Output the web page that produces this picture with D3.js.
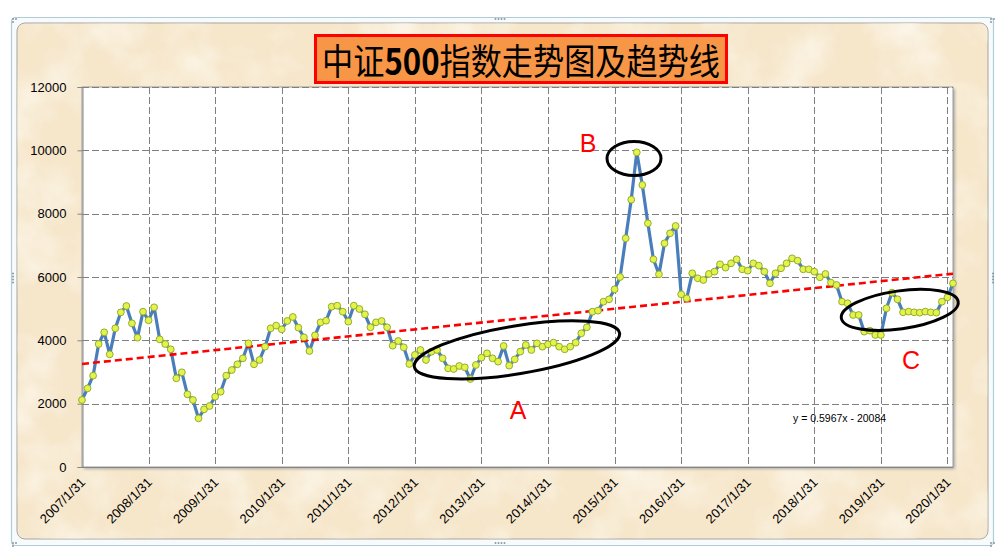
<!DOCTYPE html>
<html><head><meta charset="utf-8">
<script src="https://cdn.jsdelivr.net/npm/d3@7"></script>
<style>body{margin:0;background:#fff;} svg{display:block}</style>
</head><body><svg id="c" width="1006" height="558"></svg>
<script>
// ---------- data ----------
const titleParts = ["中证", "500", "指数走势图及趋势线"];
const startYear = 2007, startMonth = 1;           // first point: 2007/1/31, monthly
const values = [
 2116,2485,2884,3884,4253,3558,4380,4885,5084,4538,4083,4904,
 4633,5043,4032,3884,3717,2801,2991,2296,2116,1538,1822,1926,
 2220,2378,2884,3063,3243,3433,3906,3243,3379,3800,4380,4464,
 4348,4611,4737,4400,4095,3663,4159,4569,4620,5062,5094,4904,
 4589,5094,4990,4822,4412,4569,4611,4412,3831,3979,3780,3253,
 3540,3695,3379,3643,3695,3432,3116,3095,3190,3148,2779,3221,
 3453,3590,3432,3327,3821,3200,3400,3643,3853,3695,3906,3800,
 3875,3927,3800,3717,3800,3927,4222,4412,4904,4937,5221,5295,
 5611,6000,7222,8442,9937,8906,7696,6559,6085,7064,7380,7611,
 5454,5327,6117,5959,5906,6096,6169,6401,6296,6432,6559,6243,
 6200,6432,6359,6169,5801,6117,6275,6432,6590,6517,6243,6243,
 6169,5991,6096,5822,5748,5221,5169,4800,4800,4274,4305,4169,
 4169,5011,5505,5296,4885,4906,4885,4874,4906,4885,4874,5221,
 5358,5801
];
const tickLabels = ["2007/1/31","2008/1/31","2009/1/31","2010/1/31","2011/1/31","2012/1/31","2013/1/31",
  "2014/1/31","2015/1/31","2016/1/31","2017/1/31","2018/1/31","2019/1/31","2020/1/31"];
const tickIndex = [0,12,24,36,48,60,72,84,96,108,120,132,144,156];
const yTicks = [0,2000,4000,6000,8000,10000,12000];
const trendValues = [3255, 6105];                  // trend line at first and last month
const trendLabel = "y = 0.5967x - 20084";
const markLabels = ["A","B","C"];
const markIndex = [78.4, 99.5, 147.4];             // ellipse centres (month index)
const markValue = [3700, 9740, 4960];              // ellipse centres (value)

// ---------- layout ----------
const svg = d3.select("#c");
const L = 82, R = 953, T = 87, B = 467;
const x = d3.scaleLinear().domain([0, values.length - 1]).range([L, R]);
const y = d3.scaleLinear().domain([0, 12000]).range([B, T]);

const defs = svg.append("defs");
const f = defs.append("filter").attr("id","tex").attr("x",0).attr("y",0).attr("width","100%").attr("height","100%");
f.append("feTurbulence").attr("type","fractalNoise").attr("baseFrequency","0.018").attr("numOctaves",4).attr("seed",7).attr("result","n");
f.append("feColorMatrix").attr("in","n").attr("type","matrix")
 .attr("values","0 0 0 0 1  0 0 0 0 0.99  0 0 0 0 0.95  1.8 0 0 0 -0.75").attr("result","w");
f.append("feComposite").attr("in","w").attr("in2","SourceGraphic").attr("operator","in");
const f2 = defs.append("filter").attr("id","tex2").attr("x",0).attr("y",0).attr("width","100%").attr("height","100%");
f2.append("feTurbulence").attr("type","fractalNoise").attr("baseFrequency","0.03").attr("numOctaves",3).attr("seed",21).attr("result","n");
f2.append("feColorMatrix").attr("in","n").attr("type","matrix")
 .attr("values","0 0 0 0 0.9  0 0 0 0 0.8  0 0 0 0 0.62  0 1.6 0 0 -0.85").attr("result","w");
f2.append("feComposite").attr("in","w").attr("in2","SourceGraphic").attr("operator","in");
const sh = defs.append("filter").attr("id","shadow").attr("x","-5%").attr("y","-5%").attr("width","110%").attr("height","110%");
sh.append("feGaussianBlur").attr("stdDeviation",1.5);

// outer frame
svg.append("rect").attr("x",11.5).attr("y",17.5).attr("width",982).attr("height",528).attr("rx",4)
  .attr("fill","#f7fbfc").attr("stroke","#b3cbd6").attr("stroke-width",1.2);
svg.append("rect").attr("x",17).attr("y",23).attr("width",971).attr("height",516).attr("rx",8)
  .attr("fill","#f6e6ca").attr("stroke","#a3a3a3").attr("stroke-width",1);
svg.append("rect").attr("x",17).attr("y",23).attr("width",971).attr("height",516).attr("rx",8)
  .attr("fill","#f6e6ca").attr("filter","url(#tex)").attr("opacity",0.75);
svg.append("rect").attr("x",17).attr("y",23).attr("width",971).attr("height",516).attr("rx",8)
  .attr("fill","#f6e6ca").attr("filter","url(#tex2)").attr("opacity",0.35);

// selection handles
const dots = [];
[[500,19],[500,543]].forEach(([cx,cy]) => { for (let i=0;i<4;i++) dots.push([cx-4.5+i*3, cy]); });
[[13,278],[993,278]].forEach(([cx,cy]) => { for (let i=0;i<4;i++) dots.push([cx, cy-4.5+i*3]); });
[[13,19],[991,19],[13,543],[991,543]].forEach(([cx,cy]) => { dots.push([cx,cy],[cx+3,cy],[cx,cy+3]); });
svg.append("g").selectAll("rect").data(dots).join("rect")
  .attr("x",d=>d[0]-0.8).attr("y",d=>d[1]-0.8).attr("width",1.6).attr("height",1.6).attr("fill","#7a8a94");

// plot area with shadow
svg.append("rect").attr("x",L+2).attr("y",T+2).attr("width",R-L).attr("height",B-T)
  .attr("fill","#9a9a9a").attr("filter","url(#shadow)").attr("opacity",0.8);
svg.append("rect").attr("x",L).attr("y",T).attr("width",R-L).attr("height",B-T)
  .attr("fill","#fff").attr("stroke","#9a9a9a").attr("stroke-width",1);

// gridlines
const grid = svg.append("g").attr("stroke","#7f7f7f").attr("stroke-width",1).attr("stroke-dasharray","7,3");
grid.selectAll("line.h").data(yTicks.filter(v=>v>0)).join("line")
  .attr("x1",L).attr("x2",R).attr("y1",d=>Math.round(y(d))+0.5).attr("y2",d=>Math.round(y(d))+0.5);
grid.selectAll("line.v").data(tickIndex.filter(i=>i>0)).join("line")
  .attr("y1",T).attr("y2",B).attr("x1",d=>Math.round(x(d))+0.5).attr("x2",d=>Math.round(x(d))+0.5);

// axes
const yAxis = d3.axisLeft(y).tickValues(yTicks).tickSize(5).tickPadding(11).tickFormat(d3.format("d"));
const gy = svg.append("g").attr("transform",`translate(${L+0.5},0)`).call(yAxis);
gy.select(".domain").attr("stroke","#868686");
gy.selectAll(".tick line").attr("stroke","#868686");
gy.selectAll("text").attr("font-family","Liberation Sans, Arial, sans-serif").attr("font-size",13).attr("fill","#000");

svg.append("line").attr("x1",L).attr("x2",R).attr("y1",B+0.5).attr("y2",B+0.5).attr("stroke","#868686");
svg.append("g").selectAll("text").data(tickIndex).join("text")
  .attr("transform",(d)=>`translate(${x(d)+1},${B+13}) rotate(-45)`)
  .attr("text-anchor","end").attr("dy","0.35em")
  .attr("font-family","Liberation Sans, Arial, sans-serif").attr("font-size",13).attr("fill","#000")
  .text((d,i)=>tickLabels[i]);

// series line
const line = d3.line().x((d,i)=>x(i)).y(d=>y(d));
svg.append("path").datum(values).attr("d",line).attr("fill","none")
  .attr("stroke","#4a7ebb").attr("stroke-width",3.2).attr("stroke-linejoin","round");

// trend line
const last = values.length - 1;
svg.append("line").attr("x1",x(0)).attr("y1",y(trendValues[0])).attr("x2",x(last)).attr("y2",y(trendValues[1]))
  .attr("stroke","#ff0000").attr("stroke-width",2.6).attr("stroke-dasharray","7,4");

// markers
svg.append("g").selectAll("circle").data(values).join("circle")
  .attr("cx",(d,i)=>x(i)).attr("cy",d=>y(d)).attr("r",3.4)
  .attr("fill","#e4f34a").attr("stroke","#93ad2e").attr("stroke-width",1);

// annotation ellipses
const ell = [[104,24,-9.3],[27,17,0],[59,19,-8]];
svg.append("g").selectAll("ellipse").data(markIndex).join("ellipse")
  .attr("cx",0).attr("cy",0)
  .attr("rx",(d,i)=>ell[i][0]).attr("ry",(d,i)=>ell[i][1])
  .attr("transform",(d,i)=>`translate(${x(d)},${y(markValue[i])}) rotate(${ell[i][2]})`)
  .attr("fill","none").attr("stroke","#000").attr("stroke-width",3);

// annotation letters
const letterPos = [[518,419],[588,152],[911,369]];
svg.append("g").selectAll("text").data(markLabels).join("text")
  .attr("x",(d,i)=>letterPos[i][0]).attr("y",(d,i)=>letterPos[i][1])
  .attr("text-anchor","middle").attr("font-family","Liberation Sans, Arial, sans-serif")
  .attr("font-size",25).attr("fill","#ff0000").text(d=>d);

// trend equation
svg.append("text").attr("x",793).attr("y",422).attr("font-family","Liberation Sans, Arial, sans-serif")
  .attr("font-size",10.5).attr("fill","#000").text(trendLabel);

// title
svg.append("rect").attr("x",315.5).attr("y",35.5).attr("width",411).attr("height",47)
  .attr("fill","#f79646").attr("stroke","#ff0000").attr("stroke-width",3);
const tg = svg.append("g");
const tt = tg.append("text").attr("x",0).attr("y",0).attr("text-anchor","middle")
  .attr("font-family","Noto Sans CJK SC, sans-serif").attr("font-size",36).attr("fill","#000");
tt.selectAll("tspan").data(titleParts).join("tspan")
  .attr("font-weight",(d,i)=>i===1?"bold":"normal").text(d=>d);
const tw = tt.node().getComputedTextLength() || 400;
tg.attr("transform",`translate(521,75) scale(${398/tw},1)`);
</script>
</body></html>
